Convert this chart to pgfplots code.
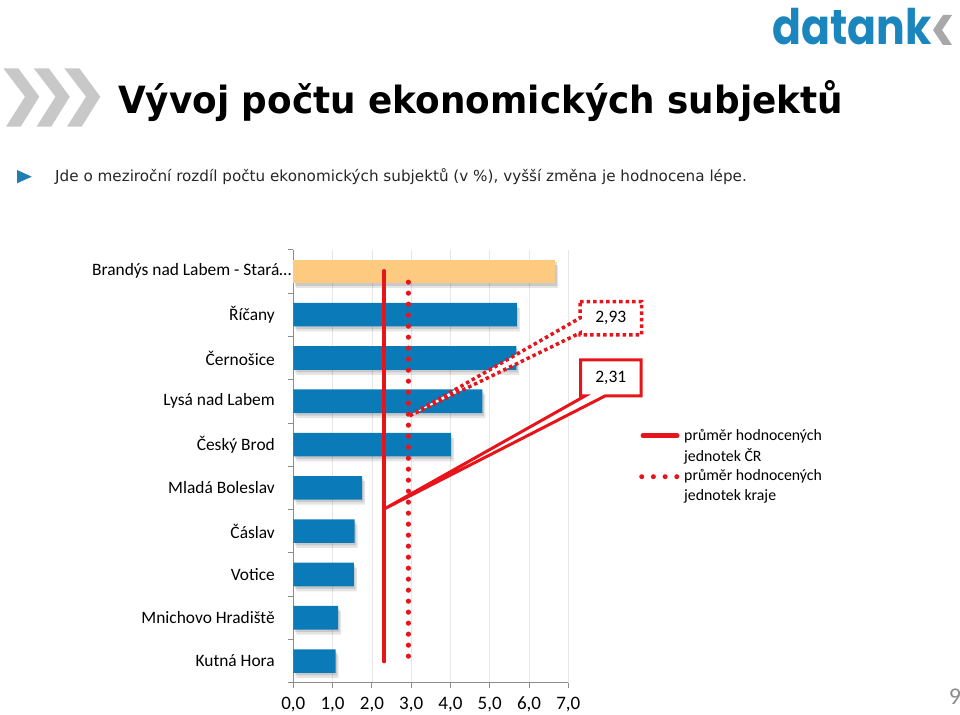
\documentclass[border=0pt]{standalone}
\usepackage{fontspec}
\setmainfont{Carlito}
\newfontfamily\titlefont{DejaVu Sans}[FakeStretch=0.955]
\newfontfamily\subfont{DejaVu Sans}
\newfontfamily\logofont{Poppins}[FakeStretch=0.87]
\usepackage{pgfplots}
\pgfplotsset{compat=1.18}
\definecolor{barblue}{HTML}{0A7BB8}
\definecolor{barorange}{HTML}{FDCA80}
\definecolor{myred}{HTML}{E8141C}
\definecolor{axisgray}{HTML}{8C8C8C}
\definecolor{gridgray}{HTML}{E6E6E6}
\definecolor{chevgray}{HTML}{C8C8C8}
\definecolor{logoblue}{HTML}{1B86BD}
\definecolor{logogray}{HTML}{A8A8A8}
\definecolor{bulletblue}{HTML}{1F7FB5}
\begin{document}
\begin{tikzpicture}[x=1pt,y=1pt]
\path[use as bounding box] (0,0) rectangle (960,714);
% chevrons
\foreach \d in {0,30.5,61} {
  \fill[chevgray] (3.3+\d,645.7) -- (18.3+\d,645.7) -- (39.3+\d,617.3) -- (20.7+\d,587.3) -- (6+\d,587.3) -- (25+\d,617.3) -- cycle;
}
% title
\node[anchor=base west, inner sep=0pt] at (118,600.7) {\titlefont\bfseries\fontsize{37.5}{40}\selectfont Vývoj počtu ekonomických subjektů};
% bullet + subtitle
\fill[bulletblue] (17,544) -- (17,530.7) -- (31.7,537.3) -- cycle;
\node[anchor=base west, inner sep=0pt, text=black!85] at (55,532) {\subfont\fontsize{15.2}{17}\selectfont Jde o meziroční rozdíl počtu ekonomických subjektů (v \%), vyšší změna je hodnocena lépe.};
% logo
\node[anchor=base west, inner sep=0pt, text=logoblue] at (772,669) {\logofont\bfseries\fontsize{49}{52}\selectfont datank};
\fill[logogray] (952,699) -- (943,699) -- (933,684) -- (943,669) -- (952,669) -- (942,684) -- cycle;
% page number
\node[anchor=base, inner sep=0pt, text=axisgray] at (955,9) {\fontsize{24}{26}\selectfont 9};

\begin{axis}[
  at={(293.3pt,31.3pt)}, anchor=south west,
  width=275pt, height=433pt, scale only axis,
  xmin=0, xmax=7, ymin=-0.5, ymax=9.5, y dir=reverse,
  axis x line*=bottom, axis y line*=left,
  axis line style={draw=axisgray, line width=0.8pt, -},
  tick align=outside, major tick length=5pt,
  tick style={draw=axisgray, line width=0.8pt},
  xtick={0,...,7},
  xticklabels={{0,0},{1,0},{2,0},{3,0},{4,0},{5,0},{6,0},{7,0}},
  xticklabel style={font=\fontsize{19}{21}\selectfont, anchor=base, inner sep=0pt, yshift=-21.5pt},
  ytick={-0.5,0.5,...,9.5},
  yticklabels=\empty,
  extra y ticks={0,...,9},
  extra y tick labels={Brandýs nad Labem - Stará…\hspace*{-16.7pt},Říčany,Černošice,Lysá nad Labem,Český Brod,Mladá Boleslav,Čáslav,Votice,Mnichovo Hradiště,Kutná Hora},
  extra y tick style={major tick length=0pt, yticklabel style={font=\fontsize{17.4}{19}\selectfont, anchor=east, inner sep=0pt, xshift=-18.3pt}},
  xmajorgrids, grid style={draw=gridgray, line width=0.7pt},
  clip=false,
]
\addplot[xbar, bar width=23.6pt, bar shift=0pt, fill=barblue, draw=none,
  preaction={fill=black, opacity=0.10, transform canvas={xshift=3pt,yshift=-5pt}},
  preaction={fill=black, opacity=0.12, transform canvas={xshift=1.5pt,yshift=-2.5pt}}]
  coordinates {(5.69,1) (5.68,2) (4.81,3) (4.01,4) (1.75,5) (1.56,6) (1.54,7) (1.14,8) (1.08,9)};
\addplot[xbar, bar width=23.6pt, bar shift=0pt, fill=barorange, draw=none,
  preaction={fill=black, opacity=0.10, transform canvas={xshift=3pt,yshift=-5pt}},
  preaction={fill=black, opacity=0.12, transform canvas={xshift=1.5pt,yshift=-2.5pt}}]
  coordinates {(6.67,0)};
\addplot[myred, line width=4.8pt, line cap=round] coordinates {(2.31,0) (2.31,9)};
\addplot[myred, line width=5.2pt, line cap=round, dash pattern=on 0pt off 11pt] coordinates {(2.93,0.25) (2.93,9)};
\coordinate (tipA) at (axis cs:2.93,3.35);
\coordinate (tipB) at (axis cs:2.31,5.49);
\end{axis}
% callouts
\filldraw[fill=white, draw=myred, line width=3.5pt, dash pattern=on 3.5pt off 3pt]
  (580,412.3) -- (641.7,412.3) -- (641.7,379) -- (580,379) -- (580,381) -- (tipA) -- (580,396) -- cycle;
\node[inner sep=0pt] at (610.8,395.7) {\fontsize{17.5}{19}\selectfont 2,93};
\filldraw[fill=white, draw=myred, line width=3pt, line join=miter]
  (580.7,354) -- (641,354) -- (641,318) -- (605,318) -- (tipB) -- (585,318) -- (580.7,318) -- cycle;
\node[inner sep=0pt] at (610.8,336) {\fontsize{17.5}{19}\selectfont 2,31};
% legend
\draw[myred, line width=5pt, line cap=round] (643,278.3) -- (677,278.3);
\draw[myred, line width=5pt, line cap=round, dash pattern=on 0pt off 11.7pt] (641.7,237.3) -- (680,237.3);
\node[anchor=west, inner sep=0pt] at (684,278) {\fontsize{15.8}{18}\selectfont průměr hodnocených};
\node[anchor=west, inner sep=0pt] at (684,258) {\fontsize{15.8}{18}\selectfont jednotek ČR};
\node[anchor=west, inner sep=0pt] at (684,238) {\fontsize{15.8}{18}\selectfont průměr hodnocených};
\node[anchor=west, inner sep=0pt] at (684,218) {\fontsize{15.8}{18}\selectfont jednotek kraje};
\end{tikzpicture}
\end{document}
